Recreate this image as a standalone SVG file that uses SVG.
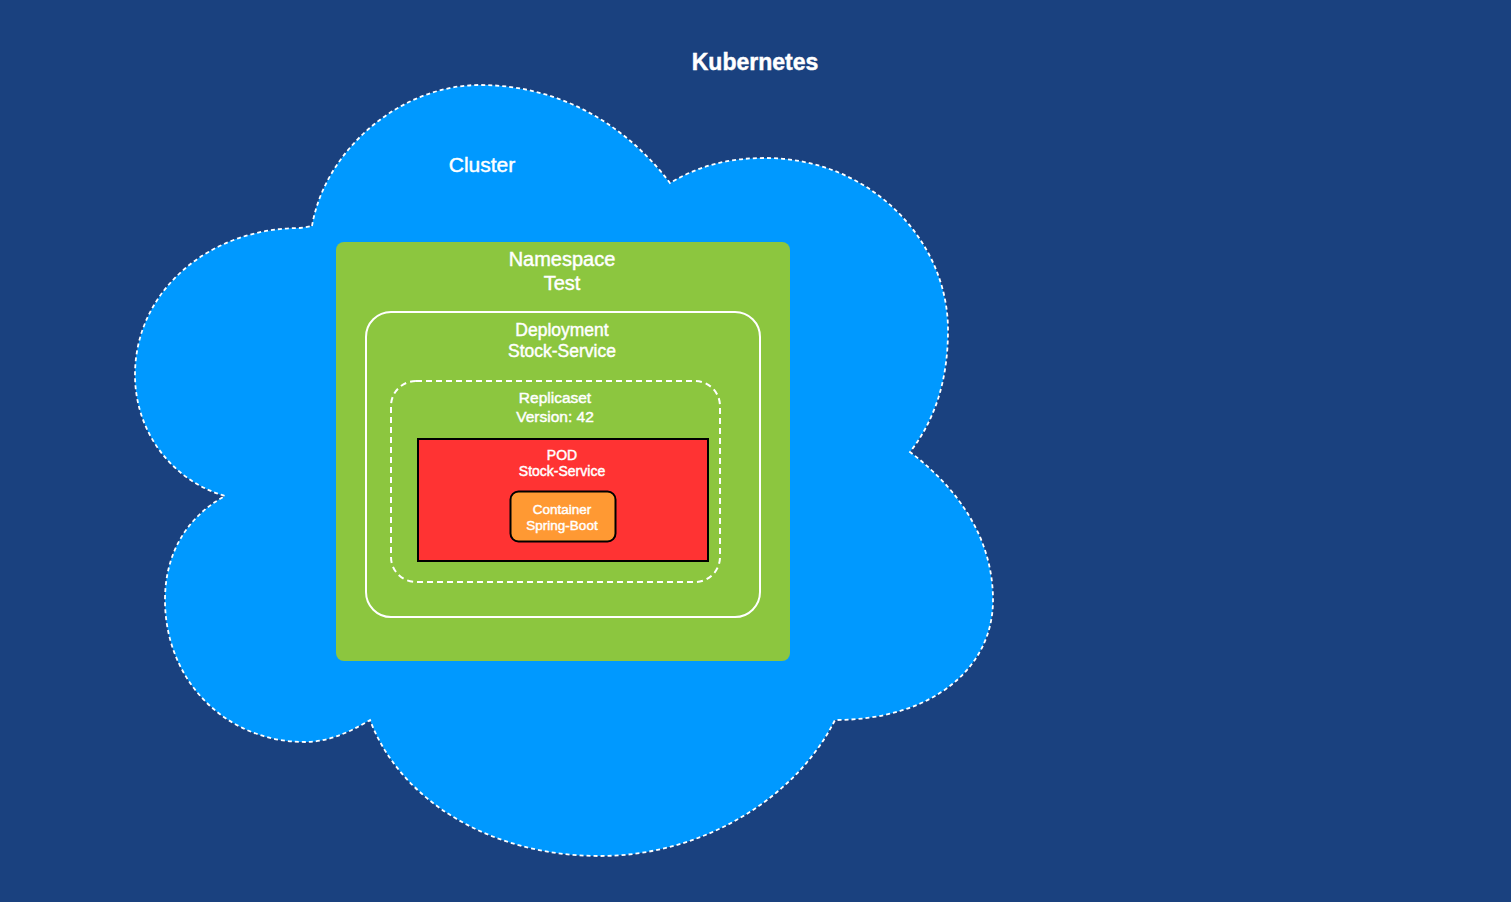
<svg xmlns="http://www.w3.org/2000/svg" width="1511" height="902" viewBox="0 0 1511 902">
<style>
text{font-family:"Liberation Sans",Arial,sans-serif;fill:#fff;text-anchor:middle;stroke:#fff;stroke-width:0.45}
</style>
<rect x="0" y="0" width="1511" height="902" fill="#1A417F"/>
<text x="755" y="70" font-size="23" font-weight="bold">Kubernetes</text>
<g id="cluster">
<path d="M312,226 C325,150 400,85 480,85 C565,85 630,130 670,183 C700,165 730,158 765,158 C870,158 948,240 948,330 C948,380 935,420 910,452 C960,490 993,540 993,600 C993,670 930,720 835,720 C795,800 700,856 600,856 C490,856 400,800 370,720 C345,735 325,742 305,742 C225,742 165,680 165,600 C165,550 190,515 225,496 C170,480 135,430 135,375 C135,290 210,228 300,228 Z" fill="#0099FF" stroke="#fff" stroke-width="1.8" stroke-dasharray="4 3"/>
<text x="482" y="172" font-size="21">Cluster</text>
</g>
<g id="namespace">
<rect x="336" y="242" width="454" height="419" rx="8" fill="#8CC63F"/>
<text x="562" y="266" font-size="20">Namespace</text>
<text x="562" y="290" font-size="20">Test</text>
</g>
<g id="deployment">
<rect x="366" y="312" width="394" height="305" rx="25" fill="none" stroke="#fff" stroke-width="2"/>
<text x="562" y="336" font-size="17.5">Deployment</text>
<text x="562" y="357" font-size="17.5">Stock-Service</text>
</g>
<g id="replicaset">
<rect x="391" y="381" width="329" height="201" rx="25" fill="none" stroke="#fff" stroke-width="2" stroke-dasharray="6 4"/>
<text x="555" y="403" font-size="15.5">Replicaset</text>
<text x="555" y="422" font-size="15.5">Version: 42</text>
</g>
<g id="pod">
<rect x="418" y="439" width="290" height="122" fill="#FF3333" stroke="#000" stroke-width="2"/>
<text x="562" y="460" font-size="14">POD</text>
<text x="562" y="476" font-size="14">Stock-Service</text>
</g>
<g id="container">
<rect x="510.5" y="491.5" width="105" height="50" rx="8" fill="#FF9933" stroke="#000" stroke-width="2"/>
<text x="562" y="514" font-size="13.5">Container</text>
<text x="562" y="530" font-size="13.5">Spring-Boot</text>
</g>
<g id="connectors"/>
</svg>
